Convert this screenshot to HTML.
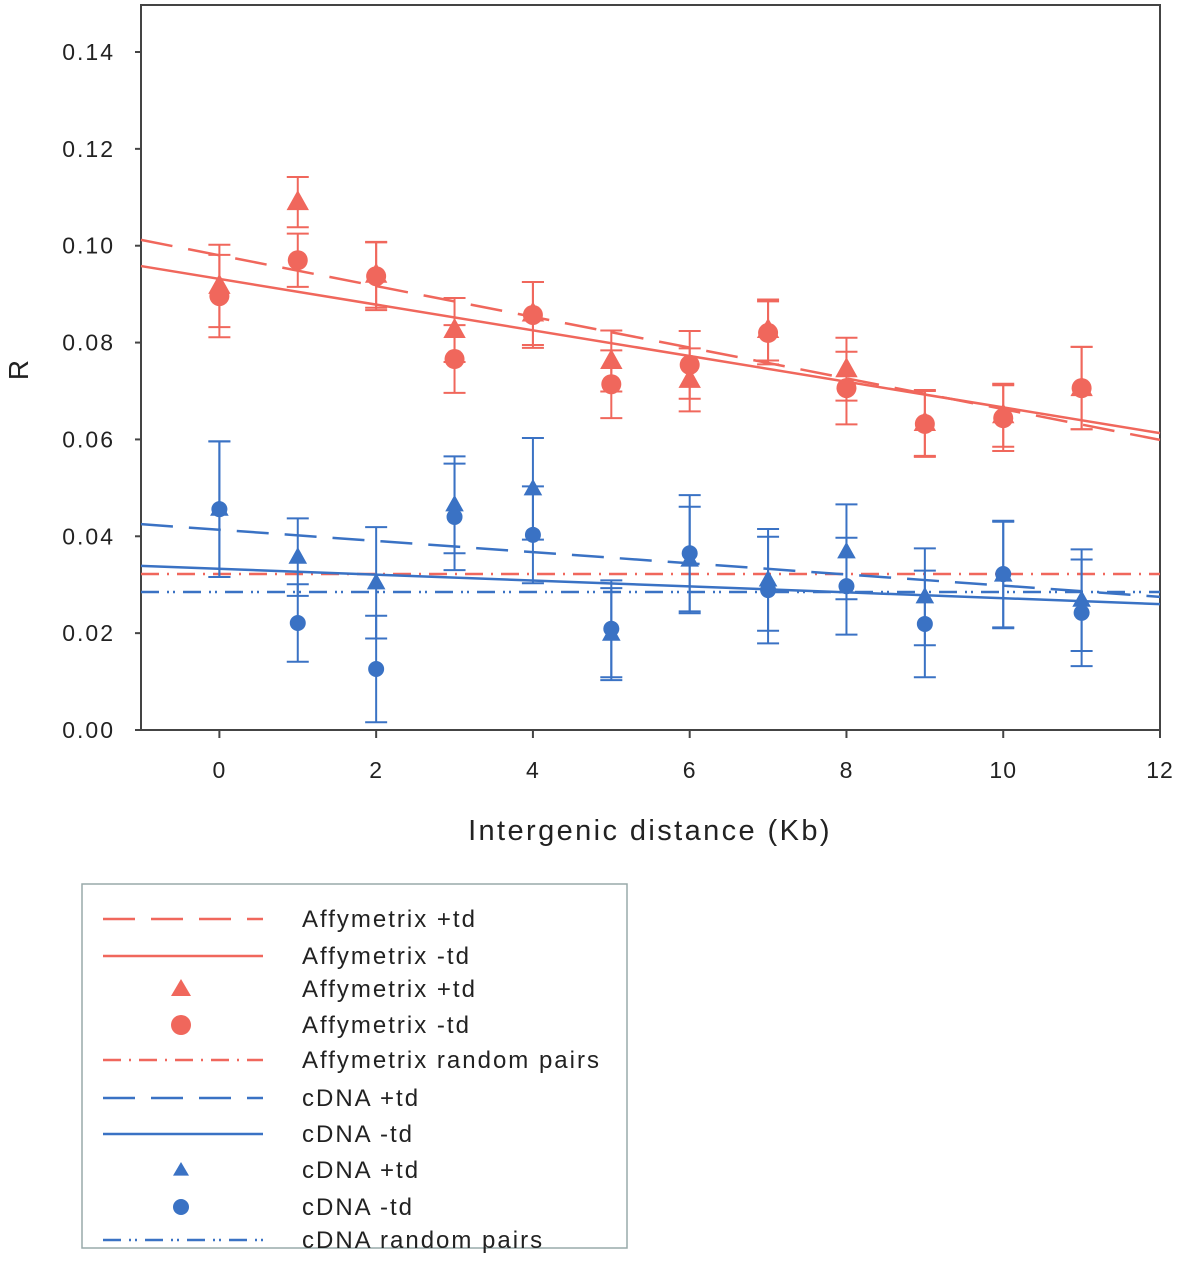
<!DOCTYPE html>
<html><head><meta charset="utf-8"><style>
body{margin:0;background:#fff;}
svg text{font-family:"Liberation Sans",sans-serif;fill:#222;}
</style></head><body>
<svg id="chart" width="1178" height="1280" viewBox="0 0 1178 1280" xmlns="http://www.w3.org/2000/svg">
<g id="plot"></g>
<g id="legend">
<rect x="82" y="884" width="545" height="364" fill="none" stroke="#9aa" stroke-width="1.5"/>
</g>
</svg>
<script>
const xCats=[0,1,2,3,4,5,6,7,8,9,10,11];
const affyMinus=[0.0896,0.097,0.0937,0.0766,0.0857,0.0714,0.0754,0.082,0.0706,0.0632,0.0644,0.0706];
const affyMinusErr=[0.0085,0.0055,0.007,0.007,0.0068,0.007,0.007,0.0065,0.0075,0.0068,0.0068,0.0085];
const affyPlus=[0.0917,0.109,0.094,0.0826,0.086,0.0762,0.0723,0.0826,0.0745,0.0634,0.065,0.0706];
const affyPlusErr=[0.0085,0.0052,0.0068,0.0066,0.0065,0.0063,0.0065,0.0063,0.0065,0.0068,0.0065,0.0085];
const cdnaMinus=[0.0456,0.0221,0.0126,0.044,0.0403,0.0209,0.0365,0.0289,0.0297,0.0219,0.0322,0.0242];
const cdnaMinusErr=[0.014,0.008,0.011,0.011,0.01,0.01,0.012,0.011,0.01,0.011,0.011,0.011];
const cdnaPlus=[0.0456,0.0357,0.0304,0.0465,0.0498,0.0198,0.0351,0.031,0.0368,0.0275,0.032,0.0268];
const cdnaPlusErr=[0.014,0.008,0.0115,0.01,0.0105,0.0095,0.011,0.0105,0.0098,0.01,0.011,0.0105];
const affyPlusFit=[0.1012,0.0599];
const affyMinusFit=[0.0958,0.0613];
const cdnaPlusFit=[0.0425,0.0275];
const cdnaMinusFit=[0.0339,0.026];
const affyRandom=0.0322;
const cdnaRandom=0.0285;
const yTicks=[0,0.02,0.04,0.06,0.08,0.10,0.12,0.14];
const xTicks=[0,2,4,6,8,10,12];
const RED="#f0675c",BLUE="#3a72c4";
const L=141,R=1160,T=5,B=730,xMin=-1,xMax=12,yMax=0.14;
const X=v=>L+(v-xMin)/(xMax-xMin)*(R-L);
const Y=v=>B-v/yMax*(B-52);
const NS="http://www.w3.org/2000/svg";
const plot=document.getElementById('plot');
function mk(tag,attrs,parent){const e=document.createElementNS(NS,tag);for(const k in attrs)e.setAttribute(k,attrs[k]);(parent||plot).appendChild(e);return e;}
let e=mk('rect',{x:L,y:T,width:R-L,height:B-T,fill:'none',stroke:'#444','stroke-width':2});


yTicks.forEach(t=>{
 let tk=mk('line',{x1:L-6,x2:L,y1:Y(t),y2:Y(t),stroke:'#444','stroke-width':2});
 
 
 let tx=mk('text',{x:L-26,y:Y(t)+8,'text-anchor':'end','font-size':23,'letter-spacing':2});
 tx.textContent=t.toFixed(2);
 
 
});
xTicks.forEach(t=>{
 let tk=mk('line',{x1:X(t),x2:X(t),y1:B,y2:B+8,stroke:'#444','stroke-width':2});
 
 
 let tx=mk('text',{x:X(t),y:B+48,'text-anchor':'middle','font-size':23,'letter-spacing':1});
 tx.textContent=t;
 
 
});
let yt=mk('text',{x:0,y:0,'font-size':28,'text-anchor':'middle',transform:'translate(28,370) rotate(-90)'});
yt.textContent='R';


let xt=mk('text',{x:650,y:840,'font-size':29,'text-anchor':'middle','letter-spacing':2.4});
xt.textContent='Intergenic distance (Kb)';


function fit(vals,color,dash,name){
 let l=mk('line',{x1:X(xMin),x2:X(xMax),y1:Y(vals[0]),y2:Y(vals[1]),stroke:color,'stroke-width':2.5,'stroke-dasharray':dash});
 
 
}
fit([affyRandom,affyRandom],RED,'18,8,2,8','affy-random-line');
fit([cdnaRandom,cdnaRandom],BLUE,'18,8,2,4,2,8','cdna-random-line');
fit(affyPlusFit,RED,'32,16','affy-plus-fit');
fit(affyMinusFit,RED,'','affy-minus-fit');
fit(cdnaPlusFit,BLUE,'32,16','cdna-plus-fit');
fit(cdnaMinusFit,BLUE,'','cdna-minus-fit');
function errbar(x,v,err,color,name){
 const g=mk('g',{stroke:color,'stroke-width':2});
 
 
 mk('line',{x1:X(x),x2:X(x),y1:Y(v-err),y2:Y(v+err)},g);
 mk('line',{x1:X(x)-11,x2:X(x)+11,y1:Y(v-err),y2:Y(v-err)},g);
 mk('line',{x1:X(x)-11,x2:X(x)+11,y1:Y(v+err),y2:Y(v+err)},g);
}
function tri(x,v,color,r,name){
 const cx=X(x),cy=Y(v);
 let p=mk('polygon',{points:`${cx},${cy-r} ${cx-r*0.95},${cy+r*0.7} ${cx+r*0.95},${cy+r*0.7}`,fill:color,stroke:color,'stroke-width':2});
 
 
}
function circ(x,v,color,r,name){
 let c=mk('circle',{cx:X(x),cy:Y(v),r:r,fill:color});
 
 
}
xCats.forEach((x,i)=>{
 errbar(x,affyPlus[i],affyPlusErr[i],RED,'affy-plus-errorbar');
 errbar(x,affyMinus[i],affyMinusErr[i],RED,'affy-minus-errorbar');
 errbar(x,cdnaPlus[i],cdnaPlusErr[i],BLUE,'cdna-plus-errorbar');
 errbar(x,cdnaMinus[i],cdnaMinusErr[i],BLUE,'cdna-minus-errorbar');
});
xCats.forEach((x,i)=>{
 tri(x,affyPlus[i],RED,10,'affy-plus-point');
 circ(x,affyMinus[i],RED,10,'affy-minus-point');
 tri(x,cdnaPlus[i],BLUE,8,'cdna-plus-point');
 circ(x,cdnaMinus[i],BLUE,8,'cdna-minus-point');
});
const lg=document.getElementById('legend');
const legendLabels=['Affymetrix +td','Affymetrix -td','Affymetrix +td','Affymetrix -td','Affymetrix random pairs','cDNA +td','cDNA -td','cDNA +td','cDNA -td','cDNA random pairs'];
const legendY=[919,956,989,1025,1060,1098,1134,1170,1207,1240];
const legendKind=['dash','solid','tri','circ','dashdot','dash','solid','tri','circ','dashdotdot'];
legendLabels.forEach((lab,i)=>{
 const col=i<5?RED:BLUE,y=legendY[i],k=legendKind[i];
 if(k==='tri'){const r=i<5?10:8;let p=mk('polygon',{points:`181,${y-r} ${181-r},${y+r*0.7} ${181+r},${y+r*0.7}`,fill:col},lg);
  
  }
 else if(k==='circ'){let c=mk('circle',{cx:181,cy:y,r:i<5?10:8,fill:col},lg);
  
  }
 else{const d={dash:'32,16',solid:'',dashdot:'18,8,2,8',dashdotdot:'18,8,2,4,2,8'}[k];
  let l=mk('line',{x1:103,x2:263,y1:y,y2:y,stroke:col,'stroke-width':2.5,'stroke-dasharray':d},lg);
  
  }
 let t=mk('text',{x:302,y:y+8,'font-size':24,'letter-spacing':2},lg);
 t.textContent=lab;
 
 
});
</script>
</body></html>
